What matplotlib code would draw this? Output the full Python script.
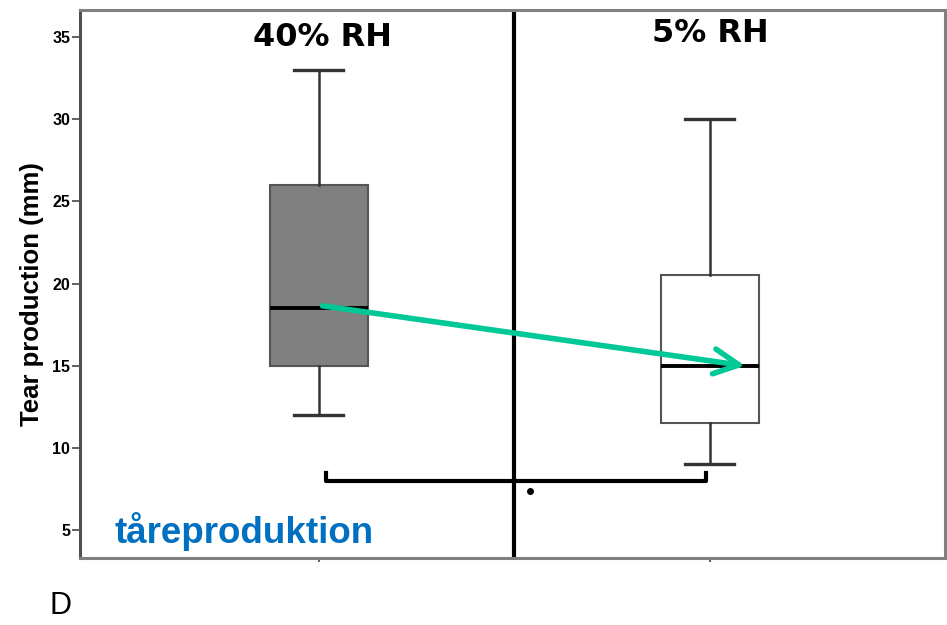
import numpy as np
import matplotlib.pyplot as plt

# box plot summary values
groups = ['40% RH', '5% RH']
positions = [1, 2]
q1 = [15, 11.5]
med = [18.5, 15]
q3 = [26, 20.5]
whislo = [12, 9]
whishi = [33, 30]
box_fill = ['#808080', '#ffffff']
yticks = [5, 10, 15, 20, 25, 30, 35]
bracket_y = 8
dot_y = 7.4

fig = plt.figure(figsize=(9.47, 6.25), dpi=100)
ax = fig.add_axes([0.0845, 0.107, 0.913, 0.877])

stats = []
for i in range(len(groups)):
    stats.append(dict(med=med[i], q1=q1[i], q3=q3[i], whislo=whislo[i],
                      whishi=whishi[i], fliers=[], label=groups[i]))

bp = ax.bxp(stats, positions=positions, widths=0.25, patch_artist=True,
            showfliers=False,
            boxprops=dict(edgecolor='#555555', linewidth=1.5),
            whiskerprops=dict(color='#333333', linewidth=1.8),
            capprops=dict(color='#333333', linewidth=2.4),
            medianprops=dict(color='black', linewidth=2.8),
            capwidths=0.125)
for patch, c in zip(bp['boxes'], box_fill):
    patch.set_facecolor(c)

ax.set_xlim(0.39, 2.6)
ax.set_ylim(3.3, 36.65)
ax.set_yticks(yticks)
ax.set_yticklabels([str(t) for t in yticks], fontsize=11.5, fontweight='bold',
                   family='Liberation Sans')
ax.set_xticks(positions)
ax.set_xticklabels(['', ''])
ax.tick_params(axis='y', length=6, width=1.2, color='#444444', pad=1)
ax.tick_params(axis='x', length=3, width=1.2, color='#444444')
for s in ax.spines.values():
    s.set_color('#808080')
    s.set_linewidth(2.2)
ax.spines['left'].set_color('#505050')

ax.set_ylabel('Tear production (mm)', fontsize=18.5, fontweight='bold',
              family='Liberation Sans')
ax.yaxis.set_label_coords(-0.0416, 0.482)

# divider between the two conditions
mid = (positions[0] + positions[1]) / 2
ax.axvline(mid, color='black', linewidth=3)

# group headers
ax.text(positions[0] + 0.011, 35.0, groups[0], ha='center', va='center',
        fontsize=23, fontweight='bold', family='DejaVu Sans')
ax.text(positions[1], 35.2, groups[1], ha='center', va='center',
        fontsize=23, fontweight='bold', family='DejaVu Sans')

# significance bracket
bx0 = positions[0] + 0.02
bx1 = positions[1] - 0.01
ax.plot([bx0, bx0, bx1, bx1], [bracket_y + 0.5, bracket_y, bracket_y, bracket_y + 0.5],
        color='black', linewidth=3, solid_joinstyle='round')
ax.plot([mid + 0.04], [dot_y], marker='o', color='black', markersize=4)

# green arrow between medians
ax.annotate('', xy=(positions[1] + 0.09, med[1]), xytext=(positions[0] + 0.01, med[0] + 0.15),
            arrowprops=dict(arrowstyle='->,head_length=0.9,head_width=0.45',
                            color='#00C896', lw=4, mutation_scale=20,
                            shrinkA=0, shrinkB=0))

ax.text(0.479, 4.2, 'tåreproduktion', color='#0070C0', fontsize=26.5,
        fontweight='bold', family='Liberation Sans', va='baseline', ha='left')

fig.text(0.052, 0.018, 'D', fontsize=22, family='Liberation Sans', ha='left', va='baseline')

plt.savefig('out.png', dpi=100)
